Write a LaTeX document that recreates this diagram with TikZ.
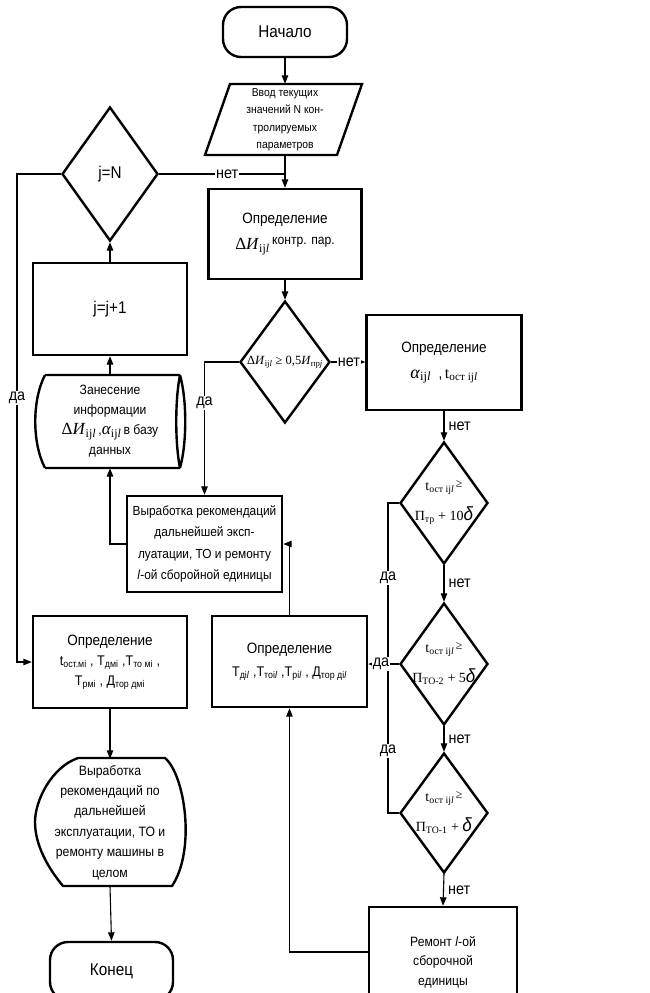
\documentclass[tikz,border=0pt]{standalone}
\usepackage{fontspec}
\setmainfont[FakeStretch=0.9]{Liberation Sans}
\newfontfamily\tms{Liberation Serif}
\usetikzlibrary{arrows.meta,shapes.geometric}
\newcommand\fsz[2]{\fontsize{#1}{#2}\selectfont}
\newcommand\DIm[1]{{\tms\fontsize{#1}{#1}\selectfont Δ\textit{И}\textsubscript{ij\textit{l}}}}
\newcommand\ALm[1]{{\tms\fontsize{#1}{#1}\selectfont\textit{α}\textsubscript{ij\textit{l}}}}
\newcommand\TOm[1]{{\tms\fontsize{#1}{#1}\selectfont t\textsubscript{ост ij\textit{l}}}}
\begin{document}
\begin{tikzpicture}[x=1pt,y=-1pt,
  box/.style={draw,line width=2.4pt,rectangle,align=center,inner sep=0pt},
  dia/.style={draw,line width=2.4pt,diamond,inner sep=0pt},
  conn/.style={line width=1.1pt},
  arr/.style={conn,-{Triangle[length=8.5pt,width=6.5pt]}},
  lbl/.style={fill=white,inner sep=1pt,font=\fsz{16}{18}},
  lblr/.style={right=3pt,inner sep=1pt,font=\fsz{16}{18}},
]
\useasboundingbox (0,0) rectangle (649,993);

% nodes
\node[box,rounded corners=18pt,minimum width=124pt,minimum height=50pt,font=\fsz{17}{20}] (start) at (285,32) {Начало};

\node[align=center,font=\fsz{11.5}{17.5},minimum width=132pt,minimum height=71pt,inner sep=0pt] (inp) at (285,119.5) {Ввод текущих\\значений N кон-\\тролируемых\\параметров};
\draw[line width=2.4pt] (230,84) -- (362,84) -- (337,155) -- (205,155) -- cycle;

\node[dia,minimum width=96pt,minimum height=134pt,label={[font=\fsz{17}{18}]center:j=N}] (jn) at (110,174) {};

\node[box,minimum width=153pt,minimum height=90pt,font=\fsz{15}{26}] (det1) at (285,234) {Определение\\\DIm{17}\,\raisebox{5pt}{\fsz{13.5}{15}контр. пар.}};

\node[box,minimum width=154pt,minimum height=92pt,font=\fsz{17}{20}] (jj) at (110,309) {j=j+1};

\node[align=center,minimum width=150pt,minimum height=93pt,inner sep=0pt,font=\fsz{13.5}{20}] (db) at (110,421.5) {Занесение\\информации\\\DIm{17}\,,\ALm{17}\,в базу\\данных};
\draw[line width=2.4pt] (45,375) -- (180,375) (45,468) -- (180,468)
  (45,375) .. controls (32,400) and (32,443) .. (45,468)
  (180,375) .. controls (187,400) and (187,443) .. (180,468)
  (180,375) .. controls (175,400) and (175,443) .. (180,468);

\node[dia,minimum width=90pt,minimum height=122pt,label={[font=\fsz{12.5}{14}]center:{\tms Δ\textit{И}\textsubscript{ij\textit{l}} ≥ 0,5\textit{И}\textsubscript{пр\textit{j}}}}] (dia2) at (285,362) {};

\node[box,minimum width=155pt,minimum height=95pt,font=\fsz{15}{26}] (detA) at (444,362.5) {Определение\\\ALm{18}\ \ ,\,\TOm{16}};

\node[box,minimum width=155pt,minimum height=96pt,font=\fsz{13.2}{21.5}] (rec) at (204.5,544) {Выработка рекомендаций\\дальнейшей эксп-\\луатации, ТО и ремонту\\\textit{l}-ой сборойной единицы};

\node[dia,minimum width=88pt,minimum height=122pt,label={[align=center]center:{\TOm{14}\,\raisebox{3pt}{\tms\fsz{12}{12}≥}\\[11pt]{\tms\fsz{14}{14}П\textsubscript{тр} + 10}{\fsz{19}{19}\textit{δ}}}}] (dia3) at (444,503) {};
\node[dia,minimum width=88pt,minimum height=122pt,label={[align=center]center:{\TOm{14}\,\raisebox{3pt}{\tms\fsz{12}{12}≥}\\[11pt]{\tms\fsz{14}{14}П\textsubscript{ТО-2} + 5}{\fsz{19}{19}\textit{δ}}}}] (dia4) at (444,664) {};
\node[dia,minimum width=88pt,minimum height=120pt,label={[align=center]center:{\TOm{14}\,\raisebox{3pt}{\tms\fsz{12}{12}≥}\\[11pt]{\tms\fsz{14}{14}П\textsubscript{ТО-1} + }{\fsz{19}{19}\textit{δ}}}}] (dia5) at (444,813) {};

\node[box,minimum width=154pt,minimum height=92pt,font=\fsz{14}{20}] (detL) at (110,662) {{\fsz{15}{20}Определение}\\t\textsubscript{ост.мi} , T\textsubscript{дмi} ,T\textsubscript{то мi} ,\\T\textsubscript{рмi} , Д\textsubscript{тор дмi}};

\node[box,minimum width=155pt,minimum height=91pt,font=\fsz{14}{23}] (detT) at (289.5,661.5) {{\fsz{15}{23}Определение}\\T\textsubscript{дi\textit{l}} ,T\textsubscript{тоi\textit{l}} ,T\textsubscript{рi\textit{l}} , Д\textsubscript{тор дi\textit{l}}};

\node[align=center,minimum width=150pt,minimum height=127pt,inner sep=0pt,font=\fsz{13.6}{20.4}] (disp) at (110,822.5) {Выработка\\рекомендаций по\\дальнейшей\\эксплуатации, ТО и\\ремонту машины в\\целом};
\draw[line width=2.4pt] (78,758) -- (165,758)
  .. controls (185,775) and (196,850) .. (172,886) -- (63,886)
  .. controls (48,868) and (35,845) .. (35,822)
  .. controls (35,800) and (52,767) .. (78,758) -- cycle;

\node[box,rounded corners=18pt,minimum width=123pt,minimum height=58pt,font=\fsz{17}{20}] (end) at (111.5,971) {Конец};

\node[box,minimum width=148pt,minimum height=110pt,font=\fsz{13.5}{19.5}] (rem) at (443,962) {Ремонт \textit{l}-ой\\сборочной\\единицы};

% connectors
\draw[arr] (start.south) -- (inp.north);
\draw[arr] (inp.south) -- (det1.north);
\draw[conn] (jn.east) -- node[lbl,pos=0.54]{нет} (jn.east -| inp.south);
\coordinate (lft) at (17,174);
\draw[arr] (jn.west) -- (lft) -- node[lbl,pos=0.459]{да} (lft |- detL.west) -- (detL.west);
\draw[arr] (det1.south) -- (dia2.north);
\draw[arr] (dia2.east) -- node[lbl,pos=0.52]{нет} (dia2.east -| detA.west);
\draw[arr] (dia2.west) -| node[lbl,pos=0.653]{да} (rec.north);
\draw[arr] (rec.west) -| (db.south);
\draw[arr] (db.north) -- (jj.south);
\draw[arr] (jj.north) -- (jn.south);

\draw[arr] (detA.south) -- node[lblr]{нет} (dia3.north);
\draw[arr] (dia3.south) -- node[lblr]{нет} (dia4.north);
\draw[arr] (dia4.south) -- node[lblr]{нет} (dia5.north);
\draw[arr] (dia5.south) -- node[lblr]{нет} (rem.north);

\coordinate (vr) at (388,503);
\draw[conn] (dia3.west) -- (vr) -- node[lbl,pos=0.241]{да} node[lbl,pos=0.80]{да} (vr |- dia5.west) -- (dia5.west);
\draw[arr] (dia4.west) -- node[lbl,pos=0.58]{да} (dia4.west -| detT.east);

\draw[arr] ([yshift=10pt]rem.west) -| (detT.south);
\draw[arr] (detT.north) |- (rec.east);
\draw[arr] (detL.south) -- (disp.north);
\draw[arr] (disp.south) -- (end.north);
\end{tikzpicture}
\end{document}
